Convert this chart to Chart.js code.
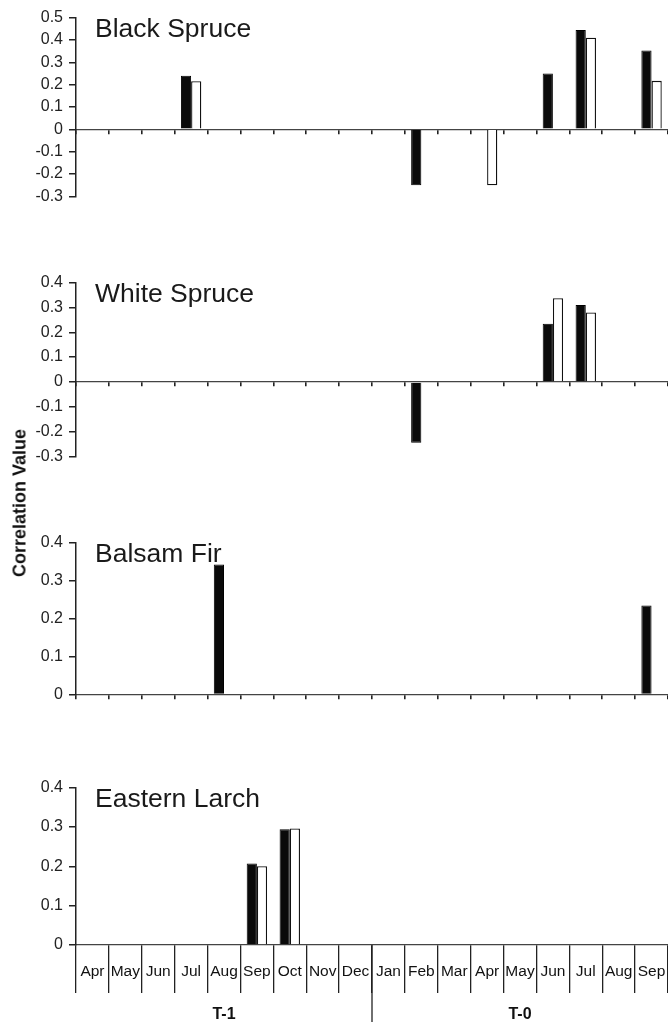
<!DOCTYPE html>
<html>
<head>
<meta charset="utf-8">
<script src="https://cdn.jsdelivr.net/npm/chart.js@4.4.0/dist/chart.umd.min.js"></script>
<style>
  body { margin: 0; background: #fff; width: 668px; height: 1026px; position: relative; overflow: hidden;
         font-family: "Liberation Sans", Arial, Helvetica, sans-serif; }
  canvas { position: absolute; left: 0; }
  #ytitle { position: absolute; left: 20px; top: 503px; transform: translate(-50%, -50%) rotate(-90deg);
            font-weight: bold; font-size: 18px; white-space: nowrap; color: #111; }
</style>
</head>
<body>
<canvas id="c1" width="668" height="210" style="top:2px"></canvas>
<canvas id="c2" width="668" height="205" style="top:267px"></canvas>
<canvas id="c3" width="668" height="183" style="top:527px"></canvas>
<canvas id="c4" width="668" height="254" style="top:772px"></canvas>
<div id="ytitle">Correlation Value</div>

<script>
// months, previous year (T-1) then current year (T-0)
const months = ['Apr','May','Jun','Jul','Aug','Sep','Oct','Nov','Dec','Jan','Feb','Mar','Apr','May','Jun','Jul','Aug','Sep'];
const groups = ['T-1', 'T-0'];

const blackSpruceDark  = [null,null,null,0.24,null,null,null,null,null,null,-0.25,null,null,null,0.25,0.445,null,0.353];
const blackSpruceLight = [null,null,null,0.215,null,null,null,null,null,null,null,null,-0.25,null,null,0.41,null,0.217];

const whiteSpruceDark  = [null,null,null,null,null,null,null,null,null,null,-0.245,null,null,null,0.234,0.31,null,null];
const whiteSpruceLight = [null,null,null,null,null,null,null,null,null,null,null,null,null,null,0.337,0.28,null,null];

const balsamFirDark  = [null,null,null,null,0.342,null,null,null,null,null,null,null,null,null,null,null,null,0.234];
const balsamFirLight = [null,null,null,null,null,null,null,null,null,null,null,null,null,null,null,null,null,null];

const larchDark  = [null,null,null,null,null,0.207,0.294,null,null,null,null,null,null,null,null,null,null,null];
const larchLight = [null,null,null,null,null,0.2,0.296,null,null,null,null,null,null,null,null,null,null,null];

const FONT = '"Liberation Sans", Arial, Helvetica, sans-serif';

// species name written inside the plot, top left
const titlePlugin = {
  id: 'panelTitle',
  afterDraw(chart, args, opts) {
    const ctx = chart.ctx, a = chart.chartArea;
    ctx.save();
    ctx.font = '26.5px ' + FONT;
    ctx.fillStyle = '#1a1a1a';
    ctx.textAlign = 'left';
    ctx.textBaseline = 'alphabetic';
    ctx.fillText(opts.text, a.left + 19, a.top + 19);
    ctx.restore();
  }
};

// long divider between Dec and Jan, plus T-1 / T-0 labels
const groupPlugin = {
  id: 'groups',
  afterDraw(chart) {
    const ctx = chart.ctx, x = chart.scales.x, a = chart.chartArea;
    const mid = (x.getPixelForValue(8) + x.getPixelForValue(9)) / 2;
    ctx.save();
    ctx.strokeStyle = '#222';
    ctx.lineWidth = 1.3;
    ctx.beginPath();
    ctx.moveTo(mid, a.bottom);
    ctx.lineTo(mid, 250);
    ctx.stroke();
    ctx.font = 'bold 16px ' + FONT;
    ctx.fillStyle = '#111';
    ctx.textAlign = 'center';
    ctx.textBaseline = 'middle';
    ctx.fillText(groups[0], (a.left + mid) / 2, 243);
    ctx.fillText(groups[1], (mid + a.right) / 2, 243);
    ctx.restore();
  }
};

function makeChart(id, title, dark, light, min, max, isBottom) {
  const plugins = [titlePlugin];
  if (isBottom) plugins.push(groupPlugin);
  return new Chart(document.getElementById(id), {
    type: 'bar',
    data: {
      labels: months,
      datasets: [
        { data: dark, backgroundColor: '#0a0a0a', borderColor: '#000', borderWidth: 1,
          categoryPercentage: 0.62, barPercentage: 1 },
        { data: light, backgroundColor: '#fff', borderColor: '#111', borderWidth: 1.3,
          categoryPercentage: 0.62, barPercentage: 1 }
      ]
    },
    options: {
      responsive: false,
      animation: false,
      devicePixelRatio: 1,
      layout: { padding: { top: 12, bottom: isBottom ? 0 : 10, left: 0, right: 0 } },
      plugins: {
        legend: { display: false },
        tooltip: { enabled: false },
        panelTitle: { text: title }
      },
      scales: {
        x: {
          position: isBottom ? 'bottom' : { y: 0 },
          grid: { drawOnChartArea: false, drawTicks: true, tickLength: isBottom ? 48 : 4,
                  color: '#222', lineWidth: isBottom ? 1.3 : 1.6 },
          border: { display: true, color: '#444', width: 1.3 },
          ticks: { display: isBottom, padding: -31, color: '#111', maxRotation: 0, autoSkip: false,
                   font: { size: 15.5, family: FONT } },
          afterFit: s => { s.height = isBottom ? 81 : 0; }
        },
        y: {
          min: min, max: max,
          grid: { drawOnChartArea: false, tickLength: 7, color: '#222', lineWidth: 1.5 },
          border: { color: '#222', width: 1.5 },
          ticks: { stepSize: 0.1, padding: 6, color: '#222', font: { size: 16, family: FONT },
                   callback: v => String(Math.round(v * 10) / 10) },
          afterFit: s => { s.width = 76; }
        }
      }
    },
    plugins: plugins
  });
}

makeChart('c1', 'Black Spruce', blackSpruceDark, blackSpruceLight, -0.3, 0.5, false);
makeChart('c2', 'White Spruce', whiteSpruceDark, whiteSpruceLight, -0.3, 0.4, false);
makeChart('c3', 'Balsam Fir', balsamFirDark, balsamFirLight, 0, 0.4, false);
makeChart('c4', 'Eastern Larch', larchDark, larchLight, 0, 0.4, true);
</script>
</body>
</html>
